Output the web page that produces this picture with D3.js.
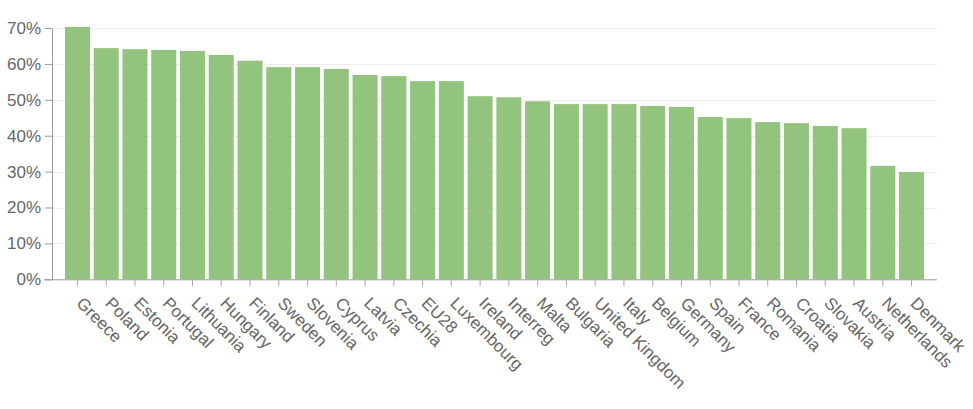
<!DOCTYPE html>
<html><head><meta charset="utf-8">
<script src="https://cdn.jsdelivr.net/npm/d3@7"></script>
<style>
body{margin:0;background:#fff;}
text{font-family:"Liberation Sans",Arial,sans-serif;}
</style></head>
<body><svg id="c" width="973" height="409"></svg>
<script>
const categories = ["Greece","Poland","Estonia","Portugal","Lithuania","Hungary","Finland","Sweden","Slovenia","Cyprus","Latvia","Czechia","EU28","Luxembourg","Ireland","Interreg","Malta","Bulgaria","United Kingdom","Italy","Belgium","Germany","Spain","France","Romania","Croatia","Slovakia","Austria","Netherlands","Denmark"];
const values = [70.3,64.4,64.1,63.9,63.6,62.5,60.9,59.1,59.1,58.6,56.9,56.6,55.2,55.2,51.0,50.7,49.6,48.8,48.8,48.8,48.3,48.0,45.2,44.9,43.8,43.5,42.7,42.1,31.6,29.9];
const yTicks = [0,10,20,30,40,50,60,70];

(function(){
const svg = d3.select("#c");
const mL = 52, mR = 937, mT = 28, mB = 279.3;
const x = d3.scaleBand().domain(categories).range([mL, mR]).paddingInner(0.13).paddingOuter(0.45);
const y = d3.scaleLinear().domain([0,70]).range([mB, mT]);

// grid
svg.append("g").selectAll("line").data(yTicks.filter(d=>d>0)).join("line")
  .attr("x1", mL).attr("x2", mR)
  .attr("y1", d=>Math.round(y(d))+0.5).attr("y2", d=>Math.round(y(d))+0.5)
  .attr("stroke","#eeeeee").attr("stroke-width",1);

// bars
svg.append("g").selectAll("rect").data(values).join("rect")
  .attr("x",(d,i)=>x(categories[i]))
  .attr("width", x.bandwidth())
  .attr("y", d=>y(d))
  .attr("height", d=>mB - y(d))
  .attr("fill","#93c47d");

// y axis
const ya = svg.append("g").attr("transform",`translate(${mL},0)`)
  .call(d3.axisLeft(y).tickValues(yTicks).tickFormat(d=>d+"%").tickSize(7).tickPadding(4).tickSizeOuter(0));
ya.select(".domain").attr("stroke","#999");
ya.selectAll(".tick line").attr("stroke","#999");
ya.selectAll(".tick text").attr("fill","#666").style("font-size","17px").style("font-family","'Liberation Sans',Arial,sans-serif");

// x axis
const xa = svg.append("g").attr("transform",`translate(0,${mB})`)
  .call(d3.axisBottom(x).tickSize(7).tickSizeOuter(0).tickFormat(""));
xa.select(".domain").attr("stroke","#999").attr("d", `M${mL-8},0.5H${mR}`);
xa.selectAll(".tick line").attr("stroke","#aaa");

svg.append("g").selectAll("text").data(categories).join("text")
  .attr("transform", d=>`translate(${x(d)+x.bandwidth()/2-2},${mB+25}) rotate(45)`)
  .attr("text-anchor","start")
  .attr("fill","#666")
  .style("font-size","17px")
  .text(d=>d);
})();
</script></body></html>
